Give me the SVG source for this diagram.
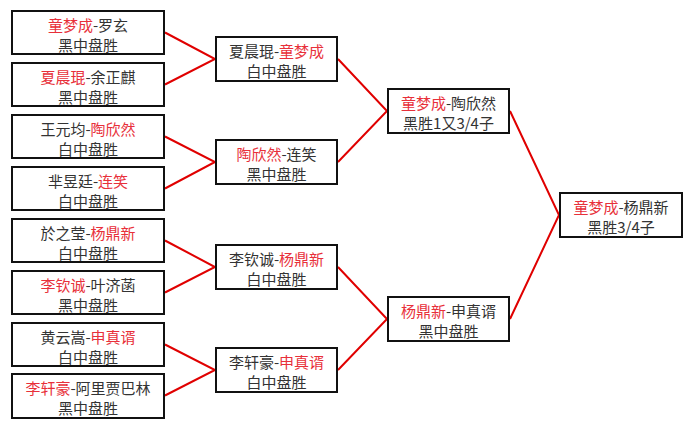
<svg xmlns="http://www.w3.org/2000/svg" width="692" height="429" viewBox="0 0 692 429">
<style>
.b{fill:#fff;stroke:#111;stroke-width:2}
.t{font-family:"Noto Sans CJK SC","Noto Sans",sans-serif;font-size:15px;fill:#333;text-anchor:middle}
.r{fill:#e8303a}
.c{fill:none;stroke:#e00000;stroke-width:2}
</style>
<rect width="692" height="429" fill="#fff"/>
<g id="connectors">
<polyline class="c" points="165,32.5 215,59 165,84.5"/>
<polyline class="c" points="165,136.5 215,162 165,188.5"/>
<polyline class="c" points="165,240.5 215,267 165,292.5"/>
<polyline class="c" points="165,344.5 215,370 165,395.5"/>
<polyline class="c" points="338,59 387,111 338,162"/>
<polyline class="c" points="338,267 387,319 338,370"/>
<polyline class="c" points="510,111 559,215 510,319"/>
</g>
<g id="n1"><rect class="b" x="12" y="11" width="152" height="43"/><text class="t" x="88" y="31"><tspan class="r">童梦成</tspan>-罗玄</text><text class="t" x="88" y="51">黑中盘胜</text></g>
<g id="n2"><rect class="b" x="12" y="63" width="152" height="43"/><text class="t" x="88" y="83"><tspan class="r">夏晨琨</tspan>-余正麒</text><text class="t" x="88" y="103">黑中盘胜</text></g>
<g id="n3"><rect class="b" x="12" y="115" width="152" height="43"/><text class="t" x="88" y="135">王元均-<tspan class="r">陶欣然</tspan></text><text class="t" x="88" y="155">白中盘胜</text></g>
<g id="n4"><rect class="b" x="12" y="167" width="152" height="43"/><text class="t" x="88" y="187">芈昱廷-<tspan class="r">连笑</tspan></text><text class="t" x="88" y="207">白中盘胜</text></g>
<g id="n5"><rect class="b" x="12" y="219" width="152" height="43"/><text class="t" x="88" y="239">於之莹-<tspan class="r">杨鼎新</tspan></text><text class="t" x="88" y="259">白中盘胜</text></g>
<g id="n6"><rect class="b" x="12" y="271" width="152" height="43"/><text class="t" x="88" y="291"><tspan class="r">李钦诚</tspan>-叶济菡</text><text class="t" x="88" y="311">黑中盘胜</text></g>
<g id="n7"><rect class="b" x="12" y="323" width="152" height="43"/><text class="t" x="88" y="343">黄云嵩-<tspan class="r">申真谞</tspan></text><text class="t" x="88" y="363">白中盘胜</text></g>
<g id="n8"><rect class="b" x="12" y="374" width="152" height="44"/><text class="t" x="88" y="394"><tspan class="r">李轩豪</tspan>-阿里贾巴林</text><text class="t" x="88" y="414">黑中盘胜</text></g>
<g id="s1"><rect class="b" x="216" y="37" width="121" height="44"/><text class="t" x="276.5" y="57">夏晨琨-<tspan class="r">童梦成</tspan></text><text class="t" x="276.5" y="77">白中盘胜</text></g>
<g id="s2"><rect class="b" x="216" y="140" width="121" height="44"/><text class="t" x="276.5" y="160"><tspan class="r">陶欣然</tspan>-连笑</text><text class="t" x="276.5" y="180">黑中盘胜</text></g>
<g id="s3"><rect class="b" x="216" y="245" width="121" height="44"/><text class="t" x="276.5" y="265">李钦诚-<tspan class="r">杨鼎新</tspan></text><text class="t" x="276.5" y="285">白中盘胜</text></g>
<g id="s4"><rect class="b" x="216" y="348" width="121" height="44"/><text class="t" x="276.5" y="368">李轩豪-<tspan class="r">申真谞</tspan></text><text class="t" x="276.5" y="388">白中盘胜</text></g>
<g id="q1"><rect class="b" x="388" y="89" width="121" height="44"/><text class="t" x="448.5" y="109"><tspan class="r">童梦成</tspan>-陶欣然</text><text class="t" x="448.5" y="129">黑胜1又3/4子</text></g>
<g id="q2"><rect class="b" x="388" y="297" width="121" height="44"/><text class="t" x="448.5" y="317"><tspan class="r">杨鼎新</tspan>-申真谞</text><text class="t" x="448.5" y="337">黑中盘胜</text></g>
<g id="f"><rect class="b" x="560" y="193" width="122" height="44"/><text class="t" x="621" y="213"><tspan class="r">童梦成</tspan>-杨鼎新</text><text class="t" x="621" y="233">黑胜3/4子</text></g>
</svg>
